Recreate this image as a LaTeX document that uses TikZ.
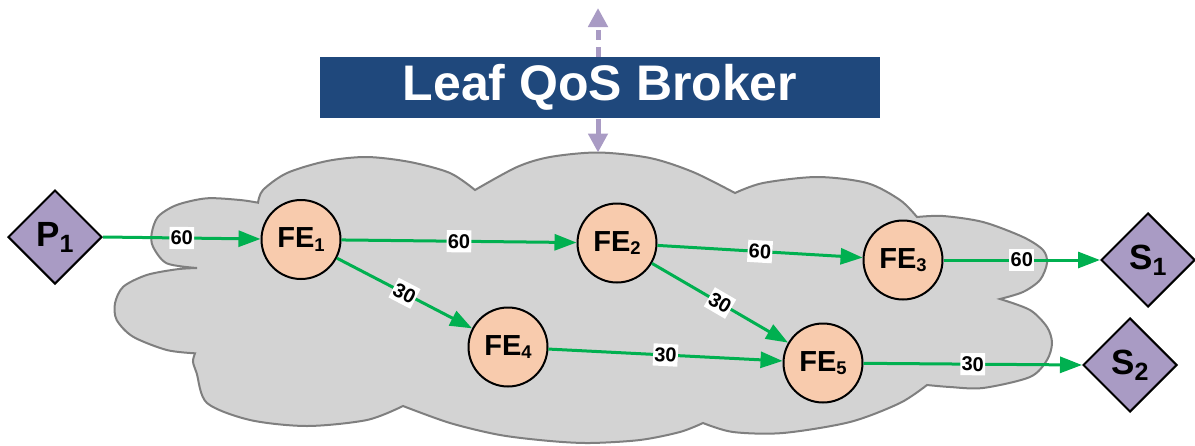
\documentclass[tikz,border=0pt]{standalone}
\usepackage{fontspec}
\setmainfont{Liberation Sans}
\usetikzlibrary{arrows.meta,shapes.geometric}
\definecolor{brokerblue}{HTML}{1F487C}
\definecolor{lav}{HTML}{A99BC4}
\definecolor{edgegreen}{HTML}{00B050}
\definecolor{peach}{HTML}{F8CBAD}
\definecolor{cloudfill}{HTML}{D3D3D3}
\definecolor{cloudline}{HTML}{7F7F7F}
\newcommand{\fesub}[1]{\raisebox{-1.8pt}{\fontsize{9.2}{10}\selectfont #1}}
\newcommand{\dsub}[1]{\raisebox{-3pt}{\fontsize{12.5}{13}\selectfont #1}}
\begin{document}
\begin{tikzpicture}[x=0.5pt,y=-0.5pt,
  fe/.style={circle,draw=black,line width=1pt,fill=peach,minimum size=39.5pt,inner sep=0pt,
    font=\fontsize{14.5}{16}\selectfont\bfseries},
  endpt/.style={diamond,draw=black,line width=1pt,fill=lav,minimum width=47pt,minimum height=47pt,inner sep=0pt,
    font=\fontsize{17.5}{19}\selectfont\bfseries},
  edge/.style={draw=edgegreen,line width=1.5pt,-{Triangle[length=11pt,width=8pt]}},
  lab/.style={fill=white,inner xsep=0.6pt,inner ysep=2pt,sloped,midway,
    font=\fontsize{10}{11}\selectfont\bfseries},
  brokarrow/.style={draw=lav,line width=2.5pt,-{Triangle[length=9.5pt,width=9.5pt]}},
  cloud/.style={fill=cloudfill,draw=cloudline,line width=1pt}
]
\useasboundingbox (0,0) rectangle (1195,445);

% cloud
\path[cloud] (197,268)
 -- plot[smooth] coordinates {(197,268) (166.7,263.3) (153,246.7) (151.7,233.3) (158,216.7) (176.7,205) (206.7,198.3) (240,200) (258,202.7)}
 -- plot[smooth] coordinates {(258,202.7) (263,190) (287,173) (327,161) (367,157) (410,162) (450,173) (475,190)}
 -- plot[smooth] coordinates {(475,190) (517,167) (550,157) (598,152.5) (650,158) (693,172) (735,193)}
 -- plot[smooth] coordinates {(735,193) (763,183) (817,177) (867,183) (900,200) (917,217)}
 -- plot[smooth] coordinates {(917,217) (943,216) (983,222) (1023,237) (1043,250) (1047,263) (1040,280) (1023,292) (1000,299)}
 -- plot[smooth] coordinates {(1000,299) (1030,310) (1047,327) (1052,343) (1047,360) (1030,377) (983,388) (950,387) (927,385)}
 -- plot[smooth] coordinates {(927,385) (900,403) (850,422) (783,433) (733,432) (703,423)}
 -- plot[smooth] coordinates {(703,423) (680,432) (640,440) (590,443) (550,441) (500,435) (450,423) (403,406)}
 -- plot[smooth] coordinates {(403,406) (367,420) (307,426) (250,420) (207,403) (196.7,373.3) (193,361.7) (195,353.3)}
 -- plot[smooth] coordinates {(195,353.3) (166.7,350) (133,336.7) (116.7,320) (115,303.3) (123.3,286.7) (146.7,275) (176.7,269.3) (197,268)}
 -- cycle;

% broker
\node[fill=brokerblue,text=white,minimum width=280pt,minimum height=30.5pt,inner sep=0pt,
  font=\fontsize{25}{27}\selectfont\bfseries] (broker) at (600,87.8) {Leaf QoS Broker};
\coordinate (up) at (598,8);
\coordinate (ctop) at (598,152.5);
\draw[brokarrow,dash pattern=on 5pt off 3.5pt] (up |- broker.north) -- (up);
\draw[brokarrow] (ctop |- broker.south) -- (ctop);

% nodes
\node[endpt] (P1) at (55,237) {P\dsub{1}};
\node[endpt] (S1) at (1148,260) {S\dsub{1}};
\node[endpt] (S2) at (1130,365) {S\dsub{2}};
\node[fe] (FE1) at (301,239.5) {FE\fesub{1}};
\node[fe] (FE2) at (617,243) {FE\fesub{2}};
\node[fe] (FE3) at (903,260) {FE\fesub{3}};
\node[fe] (FE4) at (508,347) {FE\fesub{4}};
\node[fe] (FE5) at (823,363) {FE\fesub{5}};

% edges
\draw[edge] (P1.east) -- node[lab]{60} (FE1);
\draw[edge] (FE1) -- node[lab]{60} (FE2);
\draw[edge] (FE1) -- node[lab]{30} (FE4);
\draw[edge] (FE2) -- node[lab]{60} (FE3);
\draw[edge] (FE2) -- node[lab]{30} (FE5);
\draw[edge] (FE4) -- node[lab]{30} (FE5);
\draw[edge] (FE3) -- node[lab]{60} (S1.west);
\draw[edge] (FE5) -- node[lab]{30} (S2.west);
\end{tikzpicture}
\end{document}
